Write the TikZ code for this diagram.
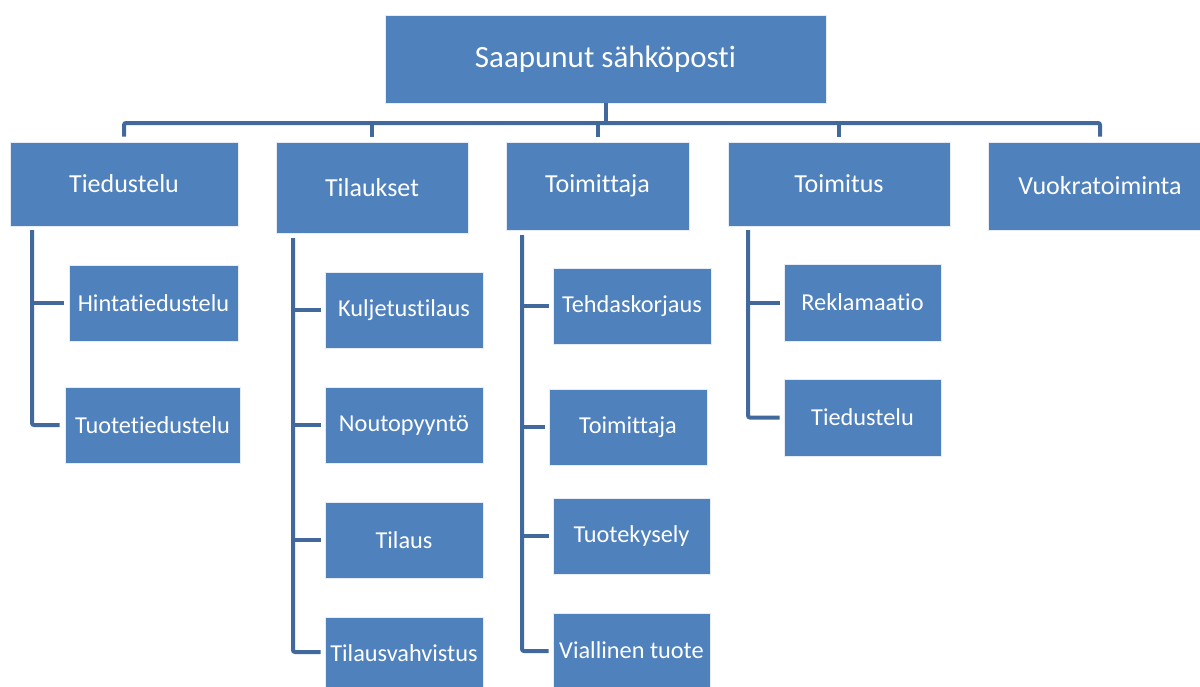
\documentclass[tikz,border=0pt]{standalone}
\usepackage{fontspec}
\setmainfont{Carlito}[Ligatures={NoCommon}]
\usetikzlibrary{calc}
\definecolor{boxfill}{HTML}{4F81BD}
\definecolor{linecol}{HTML}{41699C}
\tikzset{
  box/.style={fill=boxfill, draw=white!85!boxfill, line width=0.8pt, text=white, inner sep=0pt, align=center},
  conn/.style={draw=linecol, line width=4pt, rounded corners=2pt},
}
\newcommand{\bx}[6]{% name, x1, y1, x2, y2, text
  \node[box, minimum width={(#4-#2)*1pt}, minimum height={(#5-#3)*1pt}] (#1) at ({(#2+#4)/2},{(#3+#5)/2}) {#6};}
\newcommand{\lone}{\fontsize{26}{30}\selectfont}
\newcommand{\ltwo}{\fontsize{24.3}{28}\selectfont}
\begin{document}
\begin{tikzpicture}[x=1pt,y=-1pt]
\path[use as bounding box] (0,0) rectangle (1200,686);
% top
\bx{top}{385}{15}{826}{103}{\fontsize{31}{34}\selectfont Saapunut sähköposti}
% level 1
\bx{tied}{10}{142}{238}{226}{\lone Tiedustelu}
\bx{tila}{276}{142}{468}{233}{\lone Tilaukset}
\bx{toim}{506}{142}{689}{230}{\lone Toimittaja}
\bx{tmit}{728}{142}{950}{226}{\lone Toimitus}
\bx{vuok}{988}{142}{1212}{230}{\lone Vuokratoiminta}
% children of Tiedustelu
\bx{hint}{69}{265}{238}{341}{\ltwo Hintatiedustelu}
\bx{tuot}{65}{387}{240}{463}{\ltwo Tuotetiedustelu}
% children of Tilaukset
\bx{kulj}{325}{272}{483}{348}{\ltwo Kuljetustilaus}
\bx{nout}{325}{387}{483}{463}{\ltwo Noutopyyntö}
\bx{tilaus}{325}{502}{483}{578}{\ltwo Tilaus}
\bx{tvah}{325}{617}{483}{693}{\ltwo\raisebox{4pt}{Tilausvahvistus}}
% children of Toimittaja
\bx{tehd}{553}{268}{711}{344}{\ltwo Tehdaskorjaus}
\bx{toimc}{549}{389}{707}{465}{\ltwo Toimittaja}
\bx{tkys}{553}{498}{710}{574}{\ltwo Tuotekysely}
\bx{vial}{553}{613}{710}{689}{\ltwo\raisebox{2pt}{Viallinen tuote}}
% children of Toimitus
\bx{rekl}{784}{264}{941}{341}{\ltwo Reklamaatio}
\bx{tied2}{784}{379}{941}{456}{\ltwo Tiedustelu}
% top connectors
\coordinate (bar) at (0,123);
\draw[conn] (top.south) -- (top.south |- bar);
\draw[conn] ($(tied.north)+(0,-5)$) |- (vuok.north |- bar) -- ($(vuok.north)+(0,-5)$);
\draw[conn] ($(tila.north)+(0,-5)$) -- (tila.north |- bar);
\draw[conn] ($(toim.north)+(0,-5)$) -- (toim.north |- bar);
\draw[conn] ($(tmit.north)+(0,-5)$) -- (tmit.north |- bar);
% Tiedustelu branch
\coordinate (vA) at (32,230);
\draw[conn] (vA) |- ($(tuot.west)+(-5,0)$);
\draw[conn] (vA |- hint.west) -- ($(hint.west)+(-5,0)$);
% Tilaukset branch
\coordinate (vB) at (293,238);
\draw[conn] (vB) |- ($(tvah.west)+(-4,-3)$);
\draw[conn] (vB |- kulj.west) -- ($(kulj.west)+(-4,0)$);
\draw[conn] (vB |- nout.west) -- ($(nout.west)+(-4,0)$);
\draw[conn] (vB |- tilaus.west) -- ($(tilaus.west)+(-4,0)$);
% Toimittaja branch
\coordinate (vC) at (522,235);
\draw[conn] (vC) |- ($(vial.west)+(-4,0)$);
\draw[conn] (vC |- tehd.west) -- ($(tehd.west)+(-4,0)$);
\draw[conn] (vC |- toimc.west) -- ($(toimc.west)+(-4,0)$);
\draw[conn] (vC |- tkys.west) -- ($(tkys.west)+(-4,0)$);
% Toimitus branch
\coordinate (vD) at (748,230);
\draw[conn] (vD) |- ($(tied2.west)+(-4,0)$);
\draw[conn] (vD |- rekl.west) -- ($(rekl.west)+(-4,0)$);
\end{tikzpicture}
\end{document}
